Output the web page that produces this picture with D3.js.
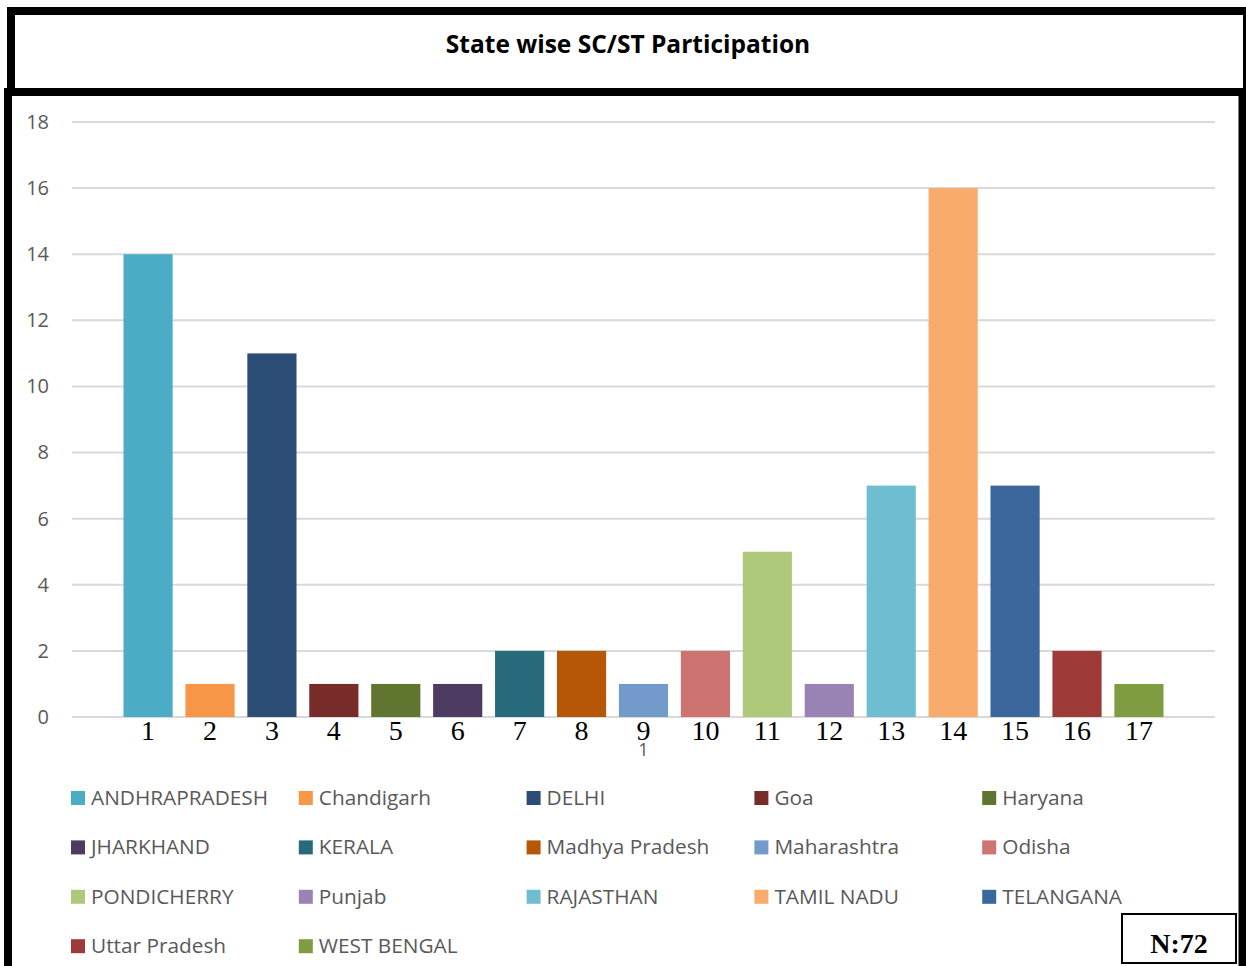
<!DOCTYPE html>
<html>
<head>
<meta charset="utf-8">
<script src="https://cdn.jsdelivr.net/npm/d3@7/dist/d3.min.js"></script>
<style>
  html, body { margin: 0; padding: 0; background: #fff; overflow: hidden; }
  svg { display: block; }
</style>
</head>
<body>
<svg id="chart" width="1246" height="966"></svg>
<script>
// ---- data ----
const categories = ["1"];
const states = ["ANDHRAPRADESH", "Chandigarh", "DELHI", "Goa", "Haryana", "JHARKHAND", "KERALA",
  "Madhya Pradesh", "Maharashtra", "Odisha", "PONDICHERRY", "Punjab", "RAJASTHAN", "TAMIL NADU",
  "TELANGANA", "Uttar Pradesh", "WEST BENGAL"];
const values = [14, 1, 11, 1, 1, 1, 2, 2, 1, 2, 5, 1, 7, 16, 7, 2, 1];
const barLabels = ["1","2","3","4","5","6","7","8","9","10","11","12","13","14","15","16","17"];
const colors = ["#4BACC6", "#F79646", "#2C4D75", "#772C2A", "#5F7530", "#4D3B62", "#276A7C",
  "#B65708", "#729ACA", "#CD7371", "#AFC97A", "#9983B5", "#6FBDD1", "#F9AB6B",
  "#3B679C", "#9E3B39", "#7F9D40"];
const yTicks = [0, 2, 4, 6, 8, 10, 12, 14, 16, 18];
const title = "State wise SC/ST Participation";
const note = "N:72";

// ---- layout ----
const svg = d3.select("#chart");
const plot = { left: 72, right: 1215, top: 122, bottom: 717 };
const sans = "'Open Sans', 'Noto Sans', sans-serif";
const serif = "'Liberation Serif', 'DejaVu Serif', serif";

// frames
svg.append("rect").attr("x", 11).attr("y", 11).attr("width", 1236).attr("height", 82)
  .attr("fill", "#fff").attr("stroke", "#000").attr("stroke-width", 8);
svg.append("rect").attr("x", 8).attr("y", 92).attr("width", 1234.5).attr("height", 1000)
  .attr("fill", "#fff").attr("stroke", "#000").attr("stroke-width", 8);

svg.append("text").attr("x", 628).attr("y", 53).attr("text-anchor", "middle")
  .attr("font-family", sans).attr("font-weight", "bold").attr("font-size", 24.5)
  .attr("fill", "#000").text(title);

// scales
const y = d3.scaleLinear().domain([0, 18]).range([plot.bottom, plot.top]);
const x0 = d3.scaleBand().domain(categories).range([plot.left, plot.right])
  .paddingInner(0).paddingOuter(0.0495);
const x1 = d3.scaleBand().domain(states).range([0, x0.bandwidth()])
  .paddingInner(0.206).paddingOuter(0);

// gridlines
svg.append("g").selectAll("line").data(yTicks).join("line")
  .attr("x1", plot.left).attr("x2", plot.right)
  .attr("y1", d => y(d)).attr("y2", d => y(d))
  .attr("stroke", "#d9d9d9").attr("stroke-width", 2);

// y axis
const yAxis = d3.axisLeft(y).tickValues(yTicks).tickSize(0).tickPadding(0);
const yg = svg.append("g").attr("transform", `translate(49,0)`).call(yAxis);
yg.select(".domain").remove();
yg.selectAll("text").attr("font-family", sans).attr("font-size", 20).attr("fill", "#595959");

// bars
const g = svg.append("g").attr("transform", `translate(${x0("1")},0)`);
g.selectAll("rect").data(states).join("rect")
  .attr("x", d => x1(d)).attr("width", x1.bandwidth())
  .attr("y", (d, i) => y(values[i])).attr("height", (d, i) => y(0) - y(values[i]))
  .attr("fill", (d, i) => colors[i]);

// bar number labels
g.selectAll("text.num").data(states).join("text").attr("class", "num")
  .attr("x", d => x1(d) + x1.bandwidth() / 2).attr("y", 740)
  .attr("text-anchor", "middle").attr("font-family", serif).attr("font-size", 28)
  .attr("fill", "#000").text((d, i) => barLabels[i]);

// category axis
const xAxis = d3.axisBottom(x0).tickSize(0).tickPadding(0);
const xg = svg.append("g").attr("transform", `translate(0,742)`).call(xAxis);
xg.select(".domain").remove();
xg.selectAll("text").attr("font-family", sans).attr("font-size", 18).attr("fill", "#595959")
  .attr("dy", "0.75em").attr("y", 0);

// legend
const legend = svg.append("g");
const items = legend.selectAll("g").data(states).join("g")
  .attr("transform", (d, i) => `translate(${71 + (i % 5) * 227.8},${791 + Math.floor(i / 5) * 49.4})`);
items.append("rect").attr("width", 14).attr("height", 14).attr("fill", (d, i) => colors[i]);
items.append("text").attr("x", 20).attr("y", 14).attr("font-family", sans).attr("font-size", 20.8)
  .attr("fill", "#595959").text(d => d);

// N box
svg.append("rect").attr("x", 1122).attr("y", 914).attr("width", 114).attr("height", 49)
  .attr("fill", "#fff").attr("stroke", "#000").attr("stroke-width", 2);
svg.append("text").attr("x", 1179).attr("y", 953).attr("text-anchor", "middle")
  .attr("font-family", serif).attr("font-weight", "bold").attr("font-size", 28)
  .attr("fill", "#000").text(note);
</script>
</body>
</html>
